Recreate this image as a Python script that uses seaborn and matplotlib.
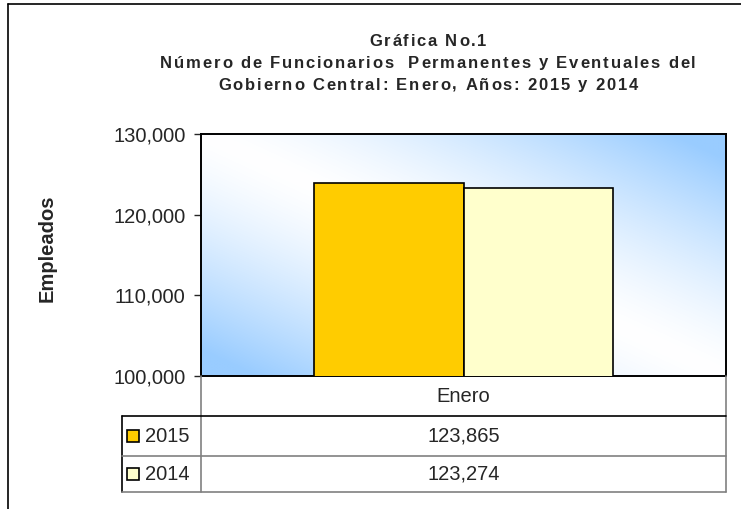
import numpy as np
import pandas as pd
import matplotlib
matplotlib.use("Agg")
import matplotlib.pyplot as plt
from matplotlib.lines import Line2D
from matplotlib.patches import Rectangle
import seaborn as sns

# datos
meses = ["Enero"]
anios = ["2015", "2014"]
valores = [123865, 123274]
colores = ["#FFCC00", "#FFFFCC"]
y_ticks = [100000, 110000, 120000, 130000]
titulo = ["Gráfica No.1",
          "Número de Funcionarios  Permanentes y Eventuales del",
          "Gobierno Central: Enero, Años: 2015 y 2014"]

sns.set_style("white")
plt.rcParams["font.family"] = ["Liberation Sans", "DejaVu Sans"]

W, H = 741, 509
fig = plt.figure(figsize=(W / 100, H / 100), dpi=100)
renderer = fig.canvas.get_renderer()


def fx(px):
    return px / W


def fy(py):
    return 1 - py / H


def texto_espaciado(xc, yc, s, tracking, **kw):
    # texto centrado con espacio extra entre letras (como en Excel)
    anchos = []
    for ch in s:
        t = fig.text(0, 0, ch, **kw)
        anchos.append(t.get_window_extent(renderer).width if ch != " " else None)
        t.remove()
    esp = fig.text(0, 0, "a a", **kw)
    w_aa = esp.get_window_extent(renderer).width
    esp.remove()
    a = fig.text(0, 0, "aa", **kw)
    w_space = w_aa - a.get_window_extent(renderer).width
    a.remove()
    anchos = [w if w is not None else w_space for w in anchos]
    total = sum(anchos) + tracking * (len(s) - 1)
    x = xc - total / 2
    for ch, w in zip(s, anchos):
        if ch != " ":
            fig.text(fx(x), fy(yc), ch, ha="left", va="center", **kw)
        x += w + tracking


# marco exterior (solo borde superior e izquierdo visibles)
fig.add_artist(Line2D([fx(8), fx(8)], [0, fy(4)], color="black", lw=1.2))
fig.add_artist(Line2D([fx(8), 1], [fy(4), fy(4)], color="black", lw=1.2))

# area de la grafica
left, right, top, bottom = 201, 726, 134, 376
ax = fig.add_axes([fx(left), fy(bottom), fx(right - left), (bottom - top) / H])

df = pd.DataFrame({"Mes": meses * len(anios), "Año": anios, "Empleados": valores})
sns.barplot(data=df, x="Mes", y="Empleados", hue="Año", palette=colores,
            saturation=1, width=0.57, edgecolor="black", linewidth=1.2,
            legend=False, ax=ax, zorder=3)

# fondo degradado
n = 200
u, v = np.meshgrid(np.linspace(0, 1, n), np.linspace(1, 0, n))
t = np.clip(np.abs(u + v - 1) / 0.9, 0, 1) ** 1.4
blanco = np.array([1.0, 1.0, 1.0])
azul = np.array([0x99, 0xCC, 0xFF]) / 255
grad = blanco + (azul - blanco) * t[..., None]
ax.imshow(grad, extent=[0, 1, 0, 1], transform=ax.transAxes,
          aspect="auto", zorder=0, interpolation="bilinear")

ax.set_xlim(-0.5, 0.5)
ax.set_ylim(y_ticks[0], y_ticks[-1])
ax.set_yticks(y_ticks)
ax.set_yticklabels([f"{y:,}" for y in y_ticks], fontsize=14.5)
ax.set_xticks([])
ax.set_xlabel("")
ax.set_ylabel("")
ax.tick_params(axis="y", direction="out", length=5, width=1, left=True, pad=6)
for s in ax.spines.values():
    s.set_color("black")
    s.set_linewidth(1.4)

fig.text(fx(47), fy(248), "Empleados", rotation=90, fontsize=14.5,
         fontweight="bold", ha="center", va="center")

for linea, ly in zip(titulo, [41, 63, 85]):
    texto_espaciado(428, ly, linea, 1.8, fontsize=12, fontweight="bold")

# tabla de datos
row_y = [376, 416, 456, 492]
tab_left = 122
gris = "#808080"
fig.add_artist(Line2D([fx(left), fx(left)], [fy(row_y[0]), fy(row_y[-1])], color=gris, lw=1.2))
fig.add_artist(Line2D([fx(right), fx(right)], [fy(row_y[0]), fy(row_y[-1])], color=gris, lw=1.2))
fig.add_artist(Line2D([fx(tab_left), fx(tab_left)], [fy(row_y[1]), fy(row_y[-1])], color="black", lw=1.2))
fig.add_artist(Line2D([fx(tab_left), fx(right)], [fy(row_y[1]), fy(row_y[1])], color="black", lw=1.2))
for ry in row_y[2:]:
    fig.add_artist(Line2D([fx(tab_left), fx(right)], [fy(ry), fy(ry)], color=gris, lw=1.2))

xc = (left + right) / 2
fig.text(fx(xc), fy((row_y[0] + row_y[1]) / 2), meses[0], fontsize=14.5,
         ha="center", va="center")
for i, (anio, val, col) in enumerate(zip(anios, valores, colores)):
    yc = (row_y[i + 1] + row_y[i + 2]) / 2
    fig.add_artist(Rectangle((fx(127), fy(yc + 6)), fx(12), 12 / H,
                             facecolor=col, edgecolor="black", lw=1.2))
    fig.text(fx(145), fy(yc), anio, fontsize=14.5, ha="left", va="center")
    fig.text(fx(xc), fy(yc), f"{val:,}", fontsize=14.5, ha="center", va="center")

fig.savefig("out.png", dpi=100)
